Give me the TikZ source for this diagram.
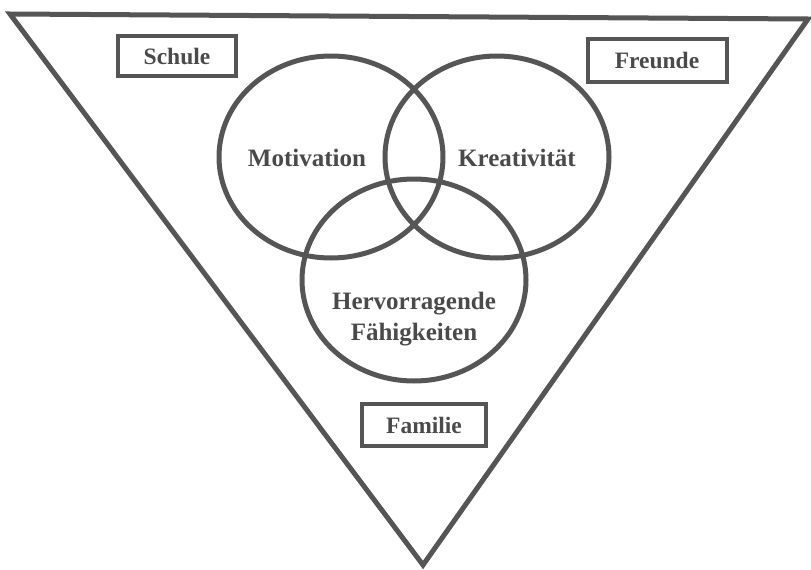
\documentclass[tikz,border=0pt]{standalone}
\usepackage{fontspec}
\setmainfont{Liberation Serif}
\usetikzlibrary{shapes.geometric}
\definecolor{ink}{HTML}{555555}
\definecolor{txt}{HTML}{4A4A4A}
\begin{document}
\begin{tikzpicture}[x=1pt,y=-1pt,
  frame/.style={draw=ink,line width=5pt,line join=miter},
  ring/.style={ellipse,draw=ink,line width=5pt,inner sep=0pt,
    minimum width=224pt,minimum height=202pt},
  tag/.style={draw=ink,line width=4pt,inner sep=0pt,text=txt,
    font=\bfseries\fontsize{23.5}{26}\selectfont},
  word/.style={text=txt,font=\bfseries\fontsize{25}{31}\selectfont,align=center}]
\useasboundingbox (0,0) rectangle (811,570);
% outer triangle
\coordinate (tl) at (10,14);
\coordinate (tr) at (808,19);
\coordinate (bt) at (423,565);
\draw[frame] (tl) -- (tr) -- (bt) -- cycle;
% three overlapping ellipses
\node[ring] (mot) at (331,157) {};
\node[ring] (kre) at (497,157) {};
\node[ring] (fae) at (414,280) {};
% labels inside the ellipses
\node[word] (tmot) at (307,158) {Motivation};
\node[word] (tkre) at (517,158) {Kreativität};
\node[word] (tfae) at (414,319) {Hervorragende\\Fähigkeiten};
% boxed labels
\node[tag,minimum width=118pt,minimum height=40pt] (schule) at (177,56) {Schule};
\node[tag,minimum width=139pt,minimum height=43pt] (freunde) at (657,60) {Freunde};
\node[tag,minimum width=124pt,minimum height=42pt] (familie) at (424,425) {Familie};
\end{tikzpicture}
\end{document}
